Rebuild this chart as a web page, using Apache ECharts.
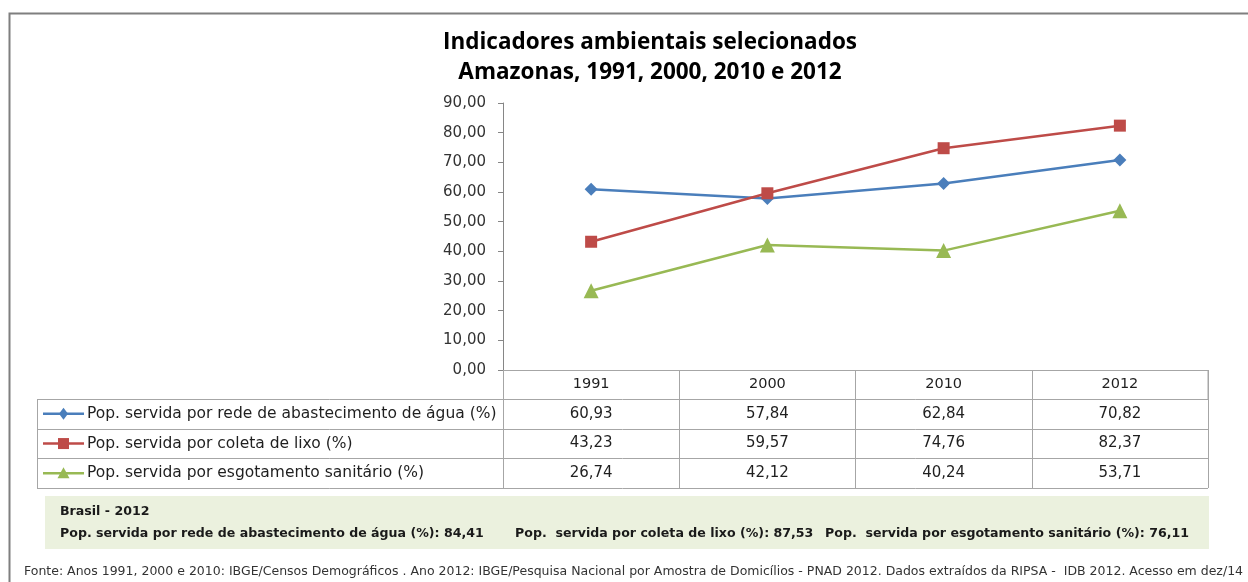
<!DOCTYPE html>
<html>
<head>
<meta charset="utf-8">
<script src="https://cdn.jsdelivr.net/npm/echarts@6/dist/echarts.min.js"></script>
<style>
  html, body { margin: 0; padding: 0; background: #fff; }
  #main { width: 1248px; height: 582px; }
</style>
</head>
<body>
<div id="main"></div>
<script>
// data
var years = ['1991', '2000', '2010', '2012'];
var agua = [60.93, 57.84, 62.84, 70.82];
var lixo = [43.23, 59.57, 74.76, 82.37];
var esgoto = [26.74, 42.12, 40.24, 53.71];
var seriesNames = [
  'Pop. servida por rede de abastecimento de água (%)',
  'Pop. servida por coleta de lixo (%)',
  'Pop. servida por esgotamento sanitário (%)'
];
var brasilLabels = [
  'Pop. servida por rede de abastecimento de água (%)',
  'Pop.  servida por coleta de lixo (%)',
  'Pop.  servida por esgotamento sanitário (%)'
];
var brasilValues = [84.41, 87.53, 76.11];

var colors = ['#4a7ebb', '#be4b48', '#98b954'];
var symbols = ['diamond', 'rect', 'triangle'];
var font = '"DejaVu Sans"';

function fmt(v) {
  return v.toFixed(2).replace('.', ',');
}

var dom = document.getElementById('main');
var myChart = echarts.init(dom, null, { renderer: 'canvas' });

var allSeries = [agua, lixo, esgoto];

var option = {
  animation: false,
  backgroundColor: '#fff',
  textStyle: { fontFamily: font },
  grid: { left: 503, right: 40, top: 103, bottom: 212 },
  xAxis: {
    type: 'category',
    data: years,
    boundaryGap: true,
    axisLine: { lineStyle: { color: '#a6a6a6', width: 1 } },
    axisTick: { show: true, interval: 0, length: 118, lineStyle: { color: '#a6a6a6' } },
    axisLabel: { margin: 7, fontSize: 14.5, color: '#1f1f1f', fontFamily: font }
  },
  yAxis: {
    type: 'value',
    min: 0,
    max: 90,
    interval: 10,
    splitLine: { show: false },
    axisLine: { show: true, lineStyle: { color: '#868686' } },
    axisTick: { show: true, length: 5, lineStyle: { color: '#868686' } },
    axisLabel: {
      margin: 17,
      fontSize: 15,
      color: '#333',
      fontFamily: font,
      formatter: function (v) { return fmt(v); }
    }
  },
  series: allSeries.map(function (d, i) {
    return {
      name: seriesNames[i],
      type: 'line',
      data: d,
      symbol: symbols[i],
      symbolSize: i === 2 ? 15 : (i === 0 ? 13 : 12),
      lineStyle: { color: colors[i], width: 2.5 },
      itemStyle: { color: colors[i] }
    };
  })
};

myChart.setOption(option);

// table, frame, title and notes built from the axes' pixel positions
var axisY = myChart.convertToPixel({ yAxisIndex: 0 }, 0);
var gridRight = 1248 - 40;
var headerBottom = axisY + 29;
var rowH = 29.7;
var tableLeft = 37;
var g = [];

// outer frame
g.push({ type: 'rect', shape: { x: 9.5, y: 13.5, width: 1400, height: 700 },
  style: { fill: null, stroke: '#7f7f7f', lineWidth: 2 }, z: 0 });

// title
g.push({ type: 'text', x: 650, y: 43, style: { text: 'Indicadores ambientais selecionados',
  font: 'bold 22.5px "Open Sans"', fill: '#000', align: 'center', verticalAlign: 'middle' } });
g.push({ type: 'text', x: 650, y: 73, style: { text: 'Amazonas, 1991, 2000, 2010 e 2012',
  font: 'bold 22.5px "Open Sans"', fill: '#000', align: 'center', verticalAlign: 'middle' } });

// header row right border
g.push({ type: 'line', shape: { x1: gridRight, y1: axisY, x2: gridRight, y2: headerBottom },
  style: { stroke: '#a6a6a6', lineWidth: 1 } });

// horizontal table lines
for (var r = 0; r <= 3; r++) {
  var y = Math.round(headerBottom + r * rowH) + 0.5;
  g.push({ type: 'line', shape: { x1: tableLeft, y1: y, x2: gridRight, y2: y },
    style: { stroke: '#a6a6a6', lineWidth: 1 } });
}
g.push({ type: 'line', shape: { x1: tableLeft + 0.5, y1: headerBottom, x2: tableLeft + 0.5, y2: headerBottom + 3 * rowH },
  style: { stroke: '#a6a6a6', lineWidth: 1 } });

allSeries.forEach(function (d, i) {
  var cy = headerBottom + (i + 0.5) * rowH;
  // legend key
  g.push({ type: 'line', shape: { x1: 43, y1: cy, x2: 84, y2: cy },
    style: { stroke: colors[i], lineWidth: 2.5 } });
  if (symbols[i] === 'diamond') {
    g.push({ type: 'polygon', shape: { points: [[63.5, cy - 6], [68, cy], [63.5, cy + 6], [59, cy]] },
      style: { fill: colors[i] } });
  } else if (symbols[i] === 'rect') {
    g.push({ type: 'rect', shape: { x: 58, y: cy - 5.5, width: 11, height: 11 }, style: { fill: colors[i] } });
  } else {
    g.push({ type: 'polygon', shape: { points: [[63.5, cy - 6], [69.5, cy + 5], [57.5, cy + 5]] },
      style: { fill: colors[i] } });
  }
  g.push({ type: 'text', x: 87, y: cy, style: { text: seriesNames[i],
    font: '15.5px ' + font, fill: '#1f1f1f', verticalAlign: 'middle' } });
  // values
  d.forEach(function (v, j) {
    var cx = myChart.convertToPixel({ xAxisIndex: 0 }, years[j]);
    g.push({ type: 'text', x: cx, y: cy, style: { text: fmt(v),
      font: '15px ' + font, fill: '#1f1f1f', align: 'center', verticalAlign: 'middle' } });
  });
});

// Brasil 2012 box
g.push({ type: 'rect', shape: { x: 45, y: 496, width: 1164, height: 53 }, style: { fill: '#ebf1de' }, z: 0 });
g.push({ type: 'text', x: 60, y: 512, style: { text: 'Brasil - 2012',
  font: 'bold 12.6px ' + font, fill: '#1a1a1a', verticalAlign: 'middle' } });
var bx = [60, 515, 825];
brasilValues.forEach(function (v, i) {
  g.push({ type: 'text', x: bx[i], y: 534, style: { text: brasilLabels[i] + ': ' + fmt(v),
    font: 'bold 12.6px ' + font, fill: '#1a1a1a', verticalAlign: 'middle' } });
});

// source note
g.push({ type: 'text', x: 24, y: 572, style: {
  text: 'Fonte: Anos 1991, 2000 e 2010: IBGE/Censos Demográficos . Ano 2012: IBGE/Pesquisa Nacional por Amostra de Domicílios - PNAD 2012. Dados extraídos da RIPSA -  IDB 2012. Acesso em dez/14',
  font: '12.5px ' + font, fill: '#333', verticalAlign: 'middle' } });

myChart.setOption({ graphic: g });

window.addEventListener('resize', myChart.resize);
</script>
</body>
</html>
